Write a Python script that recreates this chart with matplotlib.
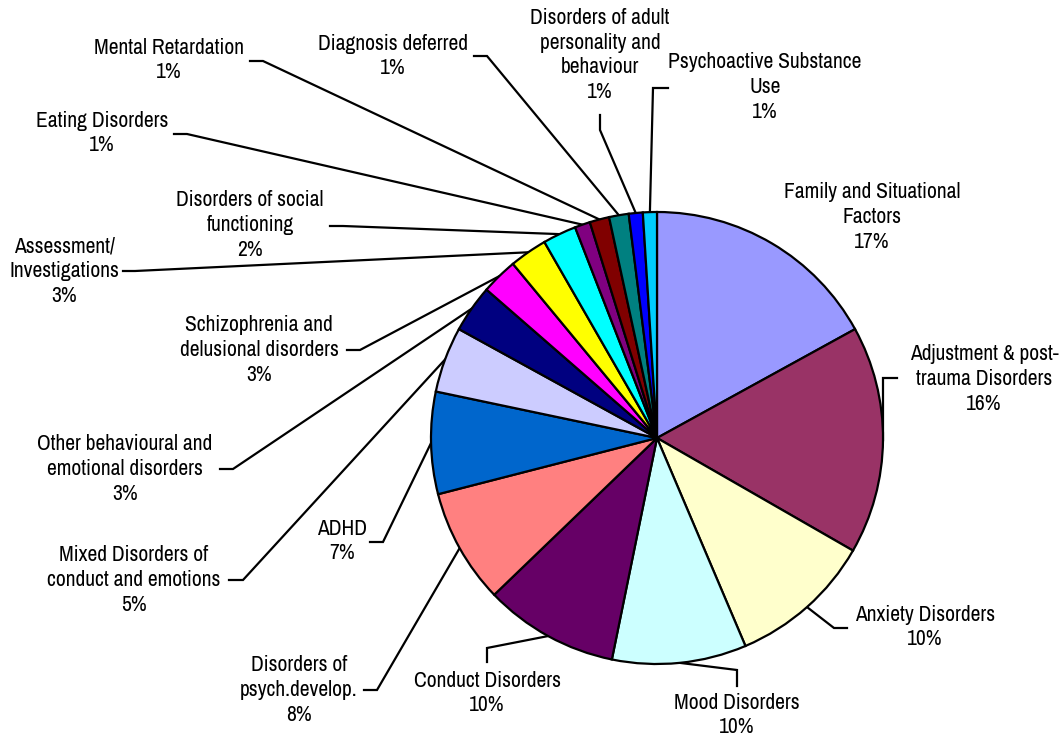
import matplotlib
matplotlib.use("Agg")
import matplotlib.pyplot as plt
import numpy as np

# slices, clockwise from 12 o'clock
categories = [
    "Family and Situational\nFactors",
    "Adjustment & post-\ntrauma Disorders",
    "Anxiety Disorders",
    "Mood Disorders",
    "Conduct Disorders",
    "Disorders of\npsych.develop.",
    "ADHD",
    "Mixed Disorders of\nconduct and emotions",
    "Other behavioural and\nemotional disorders",
    "Schizophrenia and\ndelusional disorders",
    "Assessment/\nInvestigations",
    "Disorders of social\nfunctioning",
    "Eating Disorders",
    "Mental Retardation",
    "Diagnosis deferred",
    "Disorders of adult\npersonality and\nbehaviour",
    "Psychoactive Substance\nUse",
]
shares = [17.0, 16.3, 10.3, 9.6, 9.6, 8.2, 7.3, 4.7, 3.4, 2.6,
          2.7, 2.4, 1.1, 1.4, 1.4, 1.0, 1.0]
colors = ["#9999FF", "#993366", "#FFFFCC", "#CCFFFF", "#660066", "#FF8080",
          "#0066CC", "#CCCCFF", "#000080", "#FF00FF", "#FFFF00", "#00FFFF",
          "#800080", "#800000", "#008080", "#0000FF", "#00CCFF"]

# label layout in pixels: text centre, leader elbow, leader stub end
W, H = 1062, 740
CX, CY, R = 657, 438, 226
label_pos = [(872, 217), (984, 379), (925, 627), (737, 715), (487, 693),
             (299, 690), (342, 541), (134, 580), (125, 469), (259, 350),
             (64, 271), (250, 225), (102, 133), (169, 60), (393, 56),
             (600, 55), (765, 87)]
leaders = [None,
           ((883, 378), (897, 378)),
           ((834, 628), (847, 628)),
           ((737, 670), (737, 686)),
           ((487, 648), (487, 662)),
           ((377, 690), (364, 690)),
           ((383, 542), (370, 542)),
           ((243, 580), (229, 580)),
           ((233, 469), (220, 469)),
           ((360, 350), (347, 350)),
           ((135, 271), (123, 271)),
           ((343, 226), (330, 226)),
           ((187, 134), (174, 134)),
           ((263, 61), (250, 61)),
           ((487, 56), (474, 56)),
           ((600, 130), (600, 115)),
           ((653, 88), (668, 88))]


def px(x, y):
    return (x - CX) / R, (CY - y) / R


fig = plt.figure(figsize=(W / 100, H / 100), dpi=100)
ax = fig.add_axes([0, 0, 1, 1])

wedges, _ = ax.pie(shares, colors=colors, startangle=90, counterclock=False,
                   radius=1, center=(0, 0),
                   wedgeprops=dict(edgecolor="black", linewidth=1.6))

total = sum(shares)
font = dict(family=["Archivo Narrow", "DejaVu Sans"], fontsize=15.5, color="black")
for i, (name, w) in enumerate(zip(categories, wedges)):
    pct = round(shares[i] / total * 100)
    tx, ty = px(*label_pos[i])
    ax.text(tx, ty, f"{name}\n{pct}%", ha="center", va="center",
            multialignment="center", linespacing=1.3, **font)
    if leaders[i] is not None:
        mid = np.deg2rad((w.theta1 + w.theta2) / 2)
        ex, ey = np.cos(mid), np.sin(mid)
        (bx, by), (sx, sy) = px(*leaders[i][0]), px(*leaders[i][1])
        ax.plot([ex, bx, sx], [ey, by, sy], color="black", lw=1.6,
                solid_joinstyle="miter", zorder=0)

ax.set_aspect("equal")
ax.set_xlim(-CX / R, (W - CX) / R)
ax.set_ylim(-(H - CY) / R, CY / R)
ax.axis("off")

fig.savefig("out.png", dpi=100, facecolor="white")
